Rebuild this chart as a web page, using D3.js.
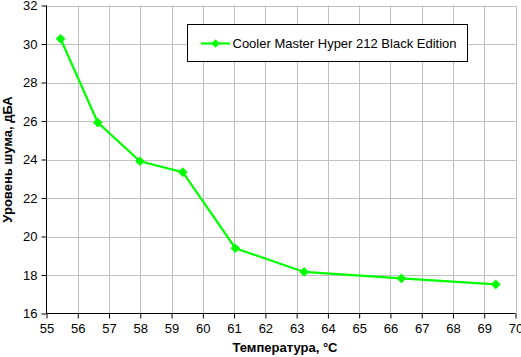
<!DOCTYPE html>
<html><head><meta charset="utf-8">
<script src="https://cdn.jsdelivr.net/npm/d3@7"></script>
<style>body{margin:0;background:#fff}svg{display:block}text{font-family:"Liberation Sans",Arial,sans-serif}</style>
</head><body>
<script>
const temps = [55.45, 56.64, 57.99, 59.36, 61.04, 63.24, 66.35, 69.37];
const noise = [30.27, 25.92, 23.91, 23.34, 19.39, 18.16, 17.82, 17.51];
const seriesName = "Cooler Master Hyper 212 Black Edition";
const xTicks = d3.range(55, 71, 1);
const yTicks = d3.range(16, 33, 2);
const xTitle = "Температура, °C";
const yTitle = "Уровень шума, дБА";

const W = 521, H = 357;
const m = {l: 46.5, r: 515.5, t: 5.5, b: 313.5};
const svg = d3.select("body").append("svg").attr("width", W).attr("height", H);
const x = d3.scaleLinear().domain([55, 70]).range([m.l, m.r]);
const y = d3.scaleLinear().domain([16, 32]).range([m.b, m.t]);

// grid
svg.append("g").selectAll("line").data(xTicks.filter(d => d > 55)).join("line")
  .attr("x1", d => Math.round(x(d)) + 0.5).attr("x2", d => Math.round(x(d)) + 0.5)
  .attr("y1", m.t).attr("y2", m.b).attr("stroke", "#c0c0c0").attr("stroke-width", 1);
svg.append("g").selectAll("line").data(yTicks.filter(d => d > 16)).join("line")
  .attr("y1", d => Math.round(y(d)) + 0.5).attr("y2", d => Math.round(y(d)) + 0.5)
  .attr("x1", m.l).attr("x2", m.r).attr("stroke", "#c0c0c0").attr("stroke-width", 1);

// axes
const xAxis = d3.axisBottom(x).tickValues(xTicks).tickSize(5).tickPadding(5).tickFormat(d3.format("d"));
const gx = svg.append("g").attr("transform", `translate(0,${m.b})`).call(xAxis);
const yAxis = d3.axisLeft(y).tickValues(yTicks).tickSize(5).tickPadding(4).tickFormat(d3.format("d"));
const gy = svg.append("g").attr("transform", `translate(${m.l},0)`).call(yAxis);
[gx, gy].forEach(g => {
  g.select(".domain").attr("stroke", "#000").attr("d", null);
  g.selectAll(".tick line").attr("stroke", "#000");
  g.selectAll(".tick text").attr("font-size", 13).attr("fill", "#000").attr("font-family", "Liberation Sans, Arial, sans-serif");
});
gx.select(".domain").remove(); gy.select(".domain").remove();
svg.append("line").attr("x1", m.l).attr("x2", m.r).attr("y1", m.b).attr("y2", m.b).attr("stroke", "#000");
svg.append("line").attr("x1", m.l).attr("x2", m.l).attr("y1", m.t).attr("y2", m.b).attr("stroke", "#000");

// titles
svg.append("text").attr("x", 285).attr("y", 352).attr("text-anchor", "middle")
  .attr("font-size", 13).attr("font-weight", "bold").text(xTitle);
svg.append("text").attr("transform", `translate(12,${(m.t + m.b) / 2}) rotate(-90)`)
  .attr("text-anchor", "middle").attr("font-size", 13).attr("font-weight", "bold").text(yTitle);

// line
const data = temps.map((t, i) => ({t, n: noise[i]}));
svg.append("path").datum(data)
  .attr("d", d3.line().x(d => x(d.t)).y(d => y(d.n)))
  .attr("fill", "none").attr("stroke", "#00ff00").attr("stroke-width", 2.2);
const diamond = d3.symbol().type(d3.symbolDiamond2).size(60);
svg.append("g").selectAll("path").data(data).join("path")
  .attr("transform", d => `translate(${x(d.t)},${y(d.n)})`)
  .attr("d", diamond).attr("fill", "#00ff00");

// legend
const lg = svg.append("g");
lg.append("rect").attr("x", 187.5).attr("y", 24.5).attr("width", 280).attr("height", 37)
  .attr("fill", "#fff").attr("stroke", "#000").attr("stroke-width", 1);
lg.append("line").attr("x1", 201).attr("x2", 230).attr("y1", 43.5).attr("y2", 43.5)
  .attr("stroke", "#00ff00").attr("stroke-width", 2.2);
lg.append("path").attr("transform", "translate(215.5,43.5)").attr("d", d3.symbol().type(d3.symbolDiamond2).size(45)).attr("fill", "#00ff00");
lg.append("text").attr("x", 232.5).attr("y", 48).attr("font-size", 13).text(seriesName);
</script>
</body></html>
